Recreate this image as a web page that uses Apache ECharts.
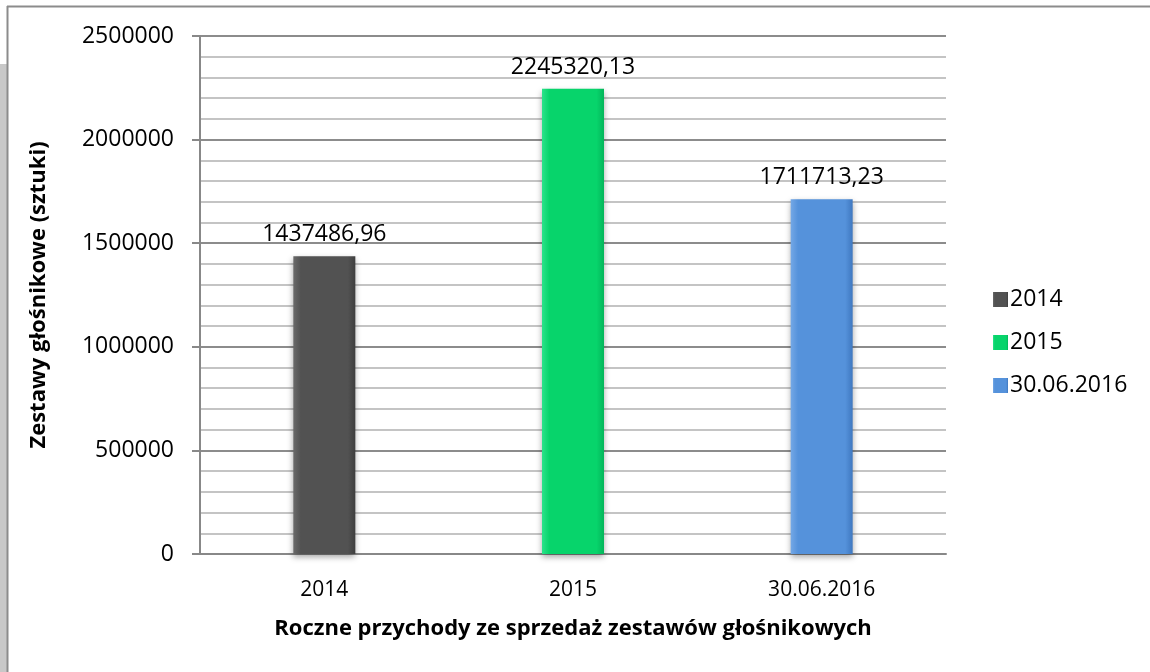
<!DOCTYPE html>
<html>
<head>
<meta charset="utf-8">
<script src="https://cdn.jsdelivr.net/npm/echarts@6/dist/echarts.min.js"></script>
<style>
html,body{margin:0;padding:0;background:#fff;}
#chart{width:1150px;height:672px;}
</style>
</head>
<body>
<div id="chart"></div>
<script>
var categories = ['2014', '2015', '30.06.2016'];
var values = [1437486.96, 2245320.13, 1711713.23];
var seriesNames = ['2014', '2015', '30.06.2016'];
var yTicks = [0, 500000, 1000000, 1500000, 2000000, 2500000];
var colors = [
  ['#6a6a6a', '#525252', '#3e3e3e'],
  ['#2be38a', '#07d46b', '#04b55a'],
  ['#74a8e6', '#5592db', '#3f78c0']
];
var FONT = 'Open Sans';

var chart = echarts.init(document.getElementById('chart'));

var series = seriesNames.map(function (name, i) {
  var data = categories.map(function (c, j) { return j === i ? values[j] : '-'; });
  return {
    name: name,
    type: 'bar',
    stack: 'all',
    barWidth: 62,
    data: data,
    itemStyle: {
      color: new echarts.graphic.LinearGradient(0, 0, 1, 0, [
        { offset: 0, color: colors[i][0] },
        { offset: 0.12, color: colors[i][1] },
        { offset: 0.88, color: colors[i][1] },
        { offset: 1, color: colors[i][2] }
      ]),
      shadowColor: 'rgba(0,0,0,0.35)',
      shadowBlur: 6,
      shadowOffsetY: 3
    },
    label: {
      show: true,
      position: 'top',
      distance: 10,
      color: '#000',
      fontFamily: FONT,
      fontSize: 23,
      formatter: function (p) { return p.value.toFixed(2).replace('.', ','); }
    }
  };
});

chart.setOption({
  animation: false,
  backgroundColor: '#fff',
  textStyle: { fontFamily: FONT },
  graphic: [
    { type: 'rect', shape: { x: 0, y: 64, width: 7, height: 620 }, style: { fill: '#c8c8c8' }, z: -1 },
    { type: 'line', shape: { x1: 7, y1: 6.5, x2: 1150, y2: 6.5 }, style: { stroke: '#8c8c8c', lineWidth: 2 }, z: -1 },
    { type: 'line', shape: { x1: 7.5, y1: 6, x2: 7.5, y2: 672 }, style: { stroke: '#8c8c8c', lineWidth: 2 }, z: -1 }
  ],
  grid: { left: 200, top: 36, right: 204, bottom: 118, containLabel: false },
  legend: {
    orient: 'vertical',
    left: 988,
    top: 283,
    itemWidth: 15,
    itemHeight: 15,
    itemGap: 20,
    icon: 'rect',
    data: seriesNames,
    textStyle: { fontFamily: FONT, fontSize: 23, color: '#000', padding: [0, 0, 0, -3] }
  },
  xAxis: {
    type: 'category',
    data: categories,
    name: 'Roczne przychody ze sprzedaż zestawów głośnikowych',
    nameLocation: 'middle',
    nameGap: 64,
    nameTextStyle: { fontFamily: FONT, fontSize: 22, fontWeight: 'bold', color: '#000' },
    axisLine: { lineStyle: { color: '#888', width: 2 } },
    axisTick: { show: false },
    axisLabel: { color: '#000', fontFamily: FONT, fontSize: 21, margin: 26 }
  },
  yAxis: {
    type: 'value',
    min: yTicks[0],
    max: yTicks[yTicks.length - 1],
    interval: yTicks[1] - yTicks[0],
    name: 'Zestawy głośnikowe (sztuki)',
    nameLocation: 'middle',
    nameGap: 150,
    nameTextStyle: { fontFamily: FONT, fontSize: 22, fontWeight: 'bold', color: '#000' },
    axisLine: { show: true, lineStyle: { color: '#888', width: 2 } },
    axisTick: { show: true, length: 8, lineStyle: { color: '#888', width: 2 } },
    axisLabel: { color: '#000', fontFamily: FONT, fontSize: 23, margin: 26, formatter: function (v) { return String(v); } },
    splitLine: { show: true, lineStyle: { color: '#8c8c8c', width: 2 } },
    minorTick: { show: false, splitNumber: 5 },
    minorSplitLine: { show: true, lineStyle: { color: '#c4c4c4', width: 2 } }
  },
  series: series
});
</script>
</body>
</html>
